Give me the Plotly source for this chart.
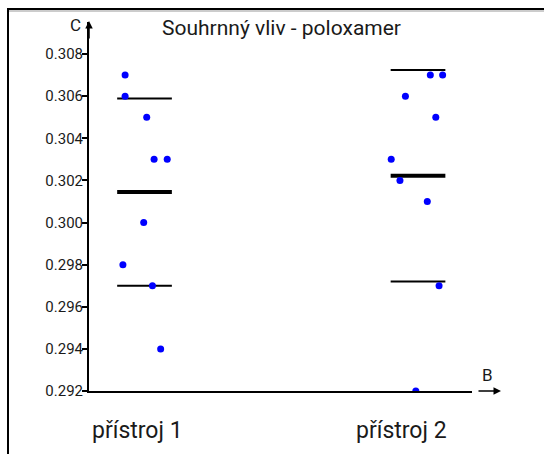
import numpy as np
import plotly.graph_objects as go

# Measured values for each instrument
categories = ["přístroj 1", "přístroj 2"]
values_1 = [0.307, 0.306, 0.305, 0.303, 0.303, 0.300, 0.298, 0.297, 0.294]
values_2 = [0.307, 0.307, 0.306, 0.305, 0.303, 0.302, 0.301, 0.297, 0.292]
y_ticks = [0.292, 0.294, 0.296, 0.298, 0.300, 0.302, 0.304, 0.306, 0.308]

# horizontal spread of the dots around each category position
jitter_1 = [-0.071, -0.071, 0.008, 0.035, 0.083, -0.003, -0.079, 0.029, 0.059]
jitter_2 = [0.045, 0.090, -0.046, 0.065, -0.098, -0.066, 0.034, 0.077, -0.008]

W, H = 544, 454
L, R, T, B = 89, 72, 22, 63
PW, PH = W - L - R, H - T - B
FONT = "Liberation Sans Narrow, Roboto, sans-serif"
INK = "#1a1a1a"


def px(xp):
    return (xp - L) / PW


def py(yp):
    return (H - B - yp) / PH


def label(x, y, text, size):
    fig.add_annotation(x=px(x), y=py(y), xref="paper", yref="paper",
                       xanchor="center", yanchor="middle",
                       text=text, showarrow=False,
                       font=dict(size=size, family=FONT, color=INK))


fig = go.Figure()

groups = [(1, values_1, jitter_1), (2, values_2, jitter_2)]
half = 0.1
for pos, vals, jit in groups:
    arr = np.array(vals)
    mean = arr.mean()
    sd = arr.std(ddof=1)
    for level, width in [(mean + sd, 2), (mean, 4), (mean - sd, 2)]:
        fig.add_trace(go.Scatter(
            x=[pos - half, pos + half], y=[level, level], mode="lines",
            line=dict(color="black", width=width), hoverinfo="skip",
            showlegend=False))
    fig.add_trace(go.Scatter(
        x=[pos + j for j in jit], y=vals, mode="markers",
        marker=dict(color="#0000ff", size=7, line=dict(width=0)),
        showlegend=False))

fig.update_layout(
    width=W, height=H,
    margin=dict(l=L, r=R, t=T, b=B),
    paper_bgcolor="white", plot_bgcolor="white",
    font=dict(family=FONT, color=INK),
    xaxis=dict(range=[0.797, 2.1974], showgrid=False, zeroline=False,
               showline=True, linecolor="black", linewidth=2,
               showticklabels=False, ticks=""),
    yaxis=dict(range=[0.292, 0.309522], showgrid=False, zeroline=False,
               showline=True, linecolor="black", linewidth=2,
               tickvals=y_ticks, ticktext=[f"{v:.3f}" for v in y_ticks],
               ticks="outside", ticklen=5, tickwidth=1.5, tickcolor="black",
               ticklabelstandoff=-4,
               tickfont=dict(size=15, family=FONT, color=INK)),
)

# category labels below the axis
for xc, text in zip([137, 401], categories):
    label(xc, 430, text, 23)

# title and axis letters
label(281, 28, "Souhrnný vliv - poloxamer", 21)
label(75, 25, "C", 17)
label(487, 375, "B", 17)

# axis arrows
fig.add_annotation(x=px(89), y=py(21), xref="paper", yref="paper",
                   ax=0, ay=19, axref="pixel", ayref="pixel",
                   text="", showarrow=True, arrowhead=2, arrowsize=1,
                   arrowwidth=1.5, arrowcolor="black")
fig.add_annotation(x=px(501), y=py(391), xref="paper", yref="paper",
                   ax=-24, ay=0, axref="pixel", ayref="pixel",
                   text="", showarrow=True, arrowhead=2, arrowsize=1,
                   arrowwidth=1.5, arrowcolor="black")

# window frame along the top and left edges
fig.add_shape(type="line", xref="paper", yref="paper",
              x0=px(8), x1=px(W + 5), y0=py(9), y1=py(9),
              line=dict(color="black", width=2))
fig.add_shape(type="line", xref="paper", yref="paper",
              x0=px(W + 5), x1=px(9), y0=py(11), y1=py(11),
              line=dict(color="#999", width=1))
fig.add_shape(type="line", xref="paper", yref="paper",
              x0=px(8), x1=px(8), y0=py(8), y1=py(H + 5),
              line=dict(color="black", width=2))

fig.write_html("out.html")
